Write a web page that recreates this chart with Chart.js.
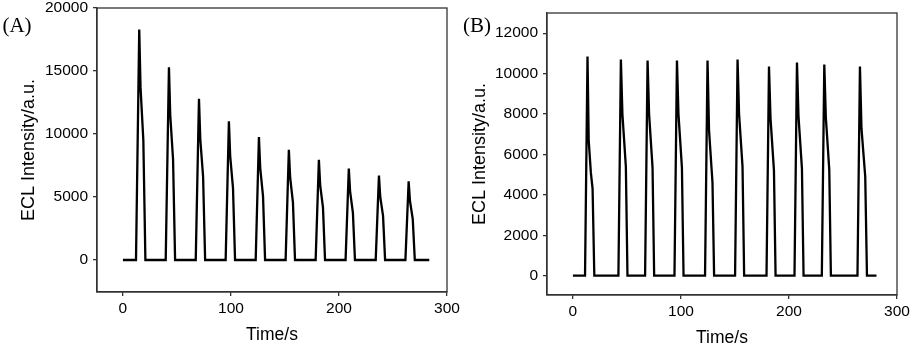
<!DOCTYPE html>
<html>
<head>
<meta charset="utf-8">
<script src="https://cdn.jsdelivr.net/npm/chart.js@4.4.1/dist/chart.umd.min.js"></script>
<style>
  html, body { margin: 0; padding: 0; background: #fff; }
  #wrap { position: relative; width: 913px; height: 349px; overflow: hidden; }
  #chartA { position: absolute; left: 0; top: 0; }
  #chartB { position: absolute; left: 460px; top: 0; }
</style>
</head>
<body>
<div id="wrap">
  <canvas id="chartA" width="460" height="349"></canvas>
  <canvas id="chartB" width="453" height="349"></canvas>
</div>
<script>
// (A) ECL trace
var timeA = [0,
  12.1, 15.1, 16.3, 18.9, 20.8,
  39.6, 42.6, 43.8, 46.4, 48.3,
  67.4, 70.4, 71.6, 74.2, 76.1,
  95.1, 98.1, 99.3, 101.9, 103.8,
  122.9, 125.9, 127.1, 129.7, 131.6,
  150.6, 153.6, 154.8, 157.4, 159.3,
  178.4, 181.4, 182.6, 185.2, 187.1,
  206.1, 209.1, 210.3, 212.9, 214.8,
  234.0, 237.0, 238.2, 240.8, 242.7,
  261.5, 264.5, 265.7, 268.3, 270.2,
  283.6];
var intensityA = [0,
  0, 18300, 13700, 9500, 0,
  0, 15300, 11500, 8000, 0,
  0, 12800, 9600, 6650, 0,
  0, 11000, 8250, 5700, 0,
  0, 9750, 7300, 5050, 0,
  0, 8750, 6550, 4550, 0,
  0, 7950, 5950, 4150, 0,
  0, 7250, 5450, 3750, 0,
  0, 6700, 5000, 3500, 0,
  0, 6250, 4700, 3250, 0,
  0];

// (B) ECL trace
var timeB = [0,
  11.2, 13.5, 14.6, 16.6, 18.2, 19.8,
  42.1, 44.4, 45.8, 49.0, 50.5,
  66.8, 69.1, 70.5, 73.7, 75.2,
  94.0, 96.3, 97.7, 100.9, 102.4,
  122.3, 124.6, 126.0, 129.2, 130.7,
  150.1, 152.4, 153.8, 157.0, 158.5,
  179.2, 181.5, 182.9, 186.1, 187.6,
  205.1, 207.4, 208.8, 212.0, 213.5,
  230.4, 232.7, 234.1, 237.3, 238.8,
  263.4, 265.7, 267.1, 270.6, 272.2,
  281];
var intensityB = [0,
  0, 10850, 6700, 5100, 4300, 0,
  0, 10700, 8000, 5400, 0,
  0, 10650, 8000, 5350, 0,
  0, 10650, 8000, 5350, 0,
  0, 10650, 7200, 4600, 0,
  0, 10700, 8000, 5400, 0,
  0, 10350, 7800, 5200, 0,
  0, 10550, 7900, 5300, 0,
  0, 10450, 7850, 5250, 0,
  0, 10350, 7300, 4900, 0,
  0];

// tick labels
var ticksX = [0, 100, 200, 300];
var ticksYA = [0, 5000, 10000, 15000, 20000];
var ticksYB = [0, 2000, 4000, 6000, 8000, 10000, 12000];

Chart.defaults.font.family = "'Liberation Sans', Arial, sans-serif";
Chart.defaults.color = "#000";

/* kutu çerçevesi ve panel harfi */
var framePlugin = {
  id: "frame",
  afterDraw: function (chart, args, opts) {
    var ctx = chart.ctx, a = chart.chartArea;
    ctx.save();
    ctx.strokeStyle = "#333";
    ctx.lineWidth = 1.3;
    ctx.strokeRect(a.left, a.top, a.right - a.left, a.bottom - a.top);
    ctx.fillStyle = "#000";
    ctx.font = "21px 'Liberation Serif', 'Times New Roman', serif";
    ctx.textAlign = "center";
    ctx.textBaseline = "middle";
    ctx.fillText(opts.label, opts.x, opts.y);
    ctx.restore();
  }
};

function duzSayi(v) {
  return String(v);
}

function cizim(id, times, values, cfg) {
  var points = [];
  for (var i = 0; i < times.length; i++) {
    points.push({x: times[i], y: values[i]});
  }
  return new Chart(document.getElementById(id), {
    type: "line",
    data: {
      datasets: [{
        data: points,
        borderColor: "#000",
        borderWidth: 2.3,
        pointRadius: 0,
        tension: 0,
        fill: false
      }]
    },
    plugins: [framePlugin],
    options: {
      responsive: false,
      animation: false,
      events: [],
      layout: {padding: {left: 0, right: cfg.padRight, top: cfg.padTop, bottom: 0}},
      plugins: {
        legend: {display: false},
        tooltip: {enabled: false},
        frame: {label: cfg.label, x: cfg.labelX, y: cfg.labelY}
      },
      scales: {
        x: {
          type: "linear",
          min: -24,
          max: 300,
          afterBuildTicks: function (s) { s.ticks = ticksX.map(function (v) { return {value: v}; }); },
          afterFit: function (s) { s.height = cfg.xHeight; s.paddingLeft = 0; s.paddingRight = 0; },
          grid: {drawOnChartArea: false, drawTicks: true, tickLength: 4, color: "#333", lineWidth: 1.3},
          border: {color: "#333", width: 1.3},
          ticks: {font: {size: 15.5}, padding: 3, maxRotation: 0, autoSkip: false, callback: duzSayi},
          title: {display: true, text: "Time/s", font: {size: 17.5}, padding: {top: 0, bottom: cfg.xTitlePad}}
        },
        y: {
          min: cfg.yMin,
          max: cfg.yMax,
          afterBuildTicks: function (s) { s.ticks = cfg.yTicks.map(function (v) { return {value: v}; }); },
          afterFit: function (s) { s.width = cfg.yWidth; s.paddingTop = 0; s.paddingBottom = 0; },
          grid: {drawOnChartArea: false, drawTicks: true, tickLength: 4, color: "#333", lineWidth: 1.3},
          border: {color: "#333", width: 1.3},
          ticks: {font: {size: 15.5}, padding: 5, autoSkip: false, callback: duzSayi},
          title: {display: true, text: "ECL Intensity/a.u.", font: {size: 18}, padding: {top: cfg.yTitlePad, bottom: 0}}
        }
      }
    }
  });
}

cizim("chartA", timeA, intensityA, {
  yMin: -2540, yMax: 20000, yTicks: ticksYA,
  yWidth: 97, xHeight: 57, padTop: 8, padRight: 13,
  yTitlePad: 18, xTitlePad: 3,
  label: "(A)", labelX: 17, labelY: 26
});

cizim("chartB", timeB, intensityB, {
  yMin: -955, yMax: 13000, yTicks: ticksYB,
  yWidth: 87, xHeight: 54, padTop: 13, padRight: 16,
  yTitlePad: 9, xTitlePad: 0,
  label: "(B)", labelX: 17, labelY: 26
});
</script>
</body>
</html>
